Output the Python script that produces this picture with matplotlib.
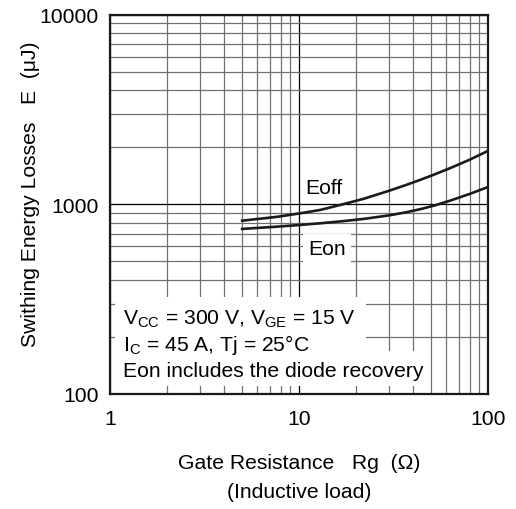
import matplotlib
matplotlib.use("Agg")
import matplotlib.pyplot as plt
import matplotlib.patches as patches

# values
rg = [5, 7.7, 10, 13, 17, 22, 30, 37, 44, 52, 63, 80, 100]
e_off = [820, 860, 895, 935, 1000, 1070, 1180, 1267, 1349, 1437, 1552, 1720, 1915]
e_on = [742, 763, 778, 795, 815, 838, 875, 909, 944, 986, 1046, 1135, 1235]

x_ticks = [1, 10, 100]
x_ticklabels = ['1', '10', '100']
y_ticks = [100, 1000, 10000]
y_ticklabels = ['100', '1000', '10000']

plt.rcParams['font.family'] = ['Liberation Sans', 'DejaVu Sans']
plt.rcParams['mathtext.default'] = 'regular'
fs = 15.2

fig = plt.figure(figsize=(5.16, 5.10), dpi=100)
ax = fig.add_axes([0.2132, 0.2255, 0.7326, 0.7437])

ax.set_xscale('log')
ax.set_yscale('log')
ax.set_xlim(1, 100)
ax.set_ylim(100, 10000)

ax.set_axisbelow(True)
ax.grid(True, which='major', color='black', linewidth=0.9)
ax.grid(True, which='minor', color='#707070', linewidth=0.9)

ax.plot(rg, e_off, color='#1a1a1a', linewidth=1.9, zorder=3)
ax.plot(rg, e_on, color='#1a1a1a', linewidth=1.9, zorder=3)

# white areas behind the condition text
ax.add_patch(patches.Rectangle((0.013, 0.021), 0.664, 0.235, transform=ax.transAxes,
                               facecolor='white', edgecolor='none', zorder=2))
ax.add_patch(patches.Rectangle((0.677, 0.021), 0.164, 0.092, transform=ax.transAxes,
                               facecolor='white', edgecolor='none', zorder=2))

ax.text(0.034, 0.185, 'V$_{CC}$ = 300 V, V$_{GE}$ = 15 V', transform=ax.transAxes,
        fontsize=fs, va='baseline', ha='left', zorder=4)
ax.text(0.034, 0.117, 'I$_{C}$ = 45 A, Tj = 25°C', transform=ax.transAxes,
        fontsize=fs, va='baseline', ha='left', zorder=4)
ax.text(0.034, 0.048, 'Eon includes the diode recovery', transform=ax.transAxes,
        fontsize=fs, va='baseline', ha='left', zorder=4)

ax.text(0.516, 0.530, 'Eoff', transform=ax.transAxes, fontsize=fs,
        va='baseline', ha='left', zorder=4)
ax.text(0.524, 0.369, 'Eon', transform=ax.transAxes, fontsize=fs,
        va='baseline', ha='left', zorder=4,
        bbox=dict(facecolor='white', edgecolor='none', pad=4))

ax.set_xticks(x_ticks)
ax.set_xticklabels(x_ticklabels)
ax.set_yticks(y_ticks)
ax.set_yticklabels(y_ticklabels)
ax.tick_params(axis='both', which='both', length=0, labelsize=fs)
ax.tick_params(axis='x', pad=11)
ax.tick_params(axis='y', pad=8)

for sp in ax.spines.values():
    sp.set_linewidth(1.6)
    sp.set_color('#1a1a1a')
    sp.set_zorder(5)

ax.set_xlabel('Gate Resistance   Rg  (Ω)\n(Inductive load)', fontsize=fs, linespacing=1.7)
ax.xaxis.set_label_coords(0.5, -0.155)
ax.xaxis.label.set_va('top')
ax.set_ylabel('Swithing Energy Losses   E  (μJ)', fontsize=fs)
ax.yaxis.set_label_coords(-0.185, 0.53)

fig.savefig('out.png', dpi=100)
